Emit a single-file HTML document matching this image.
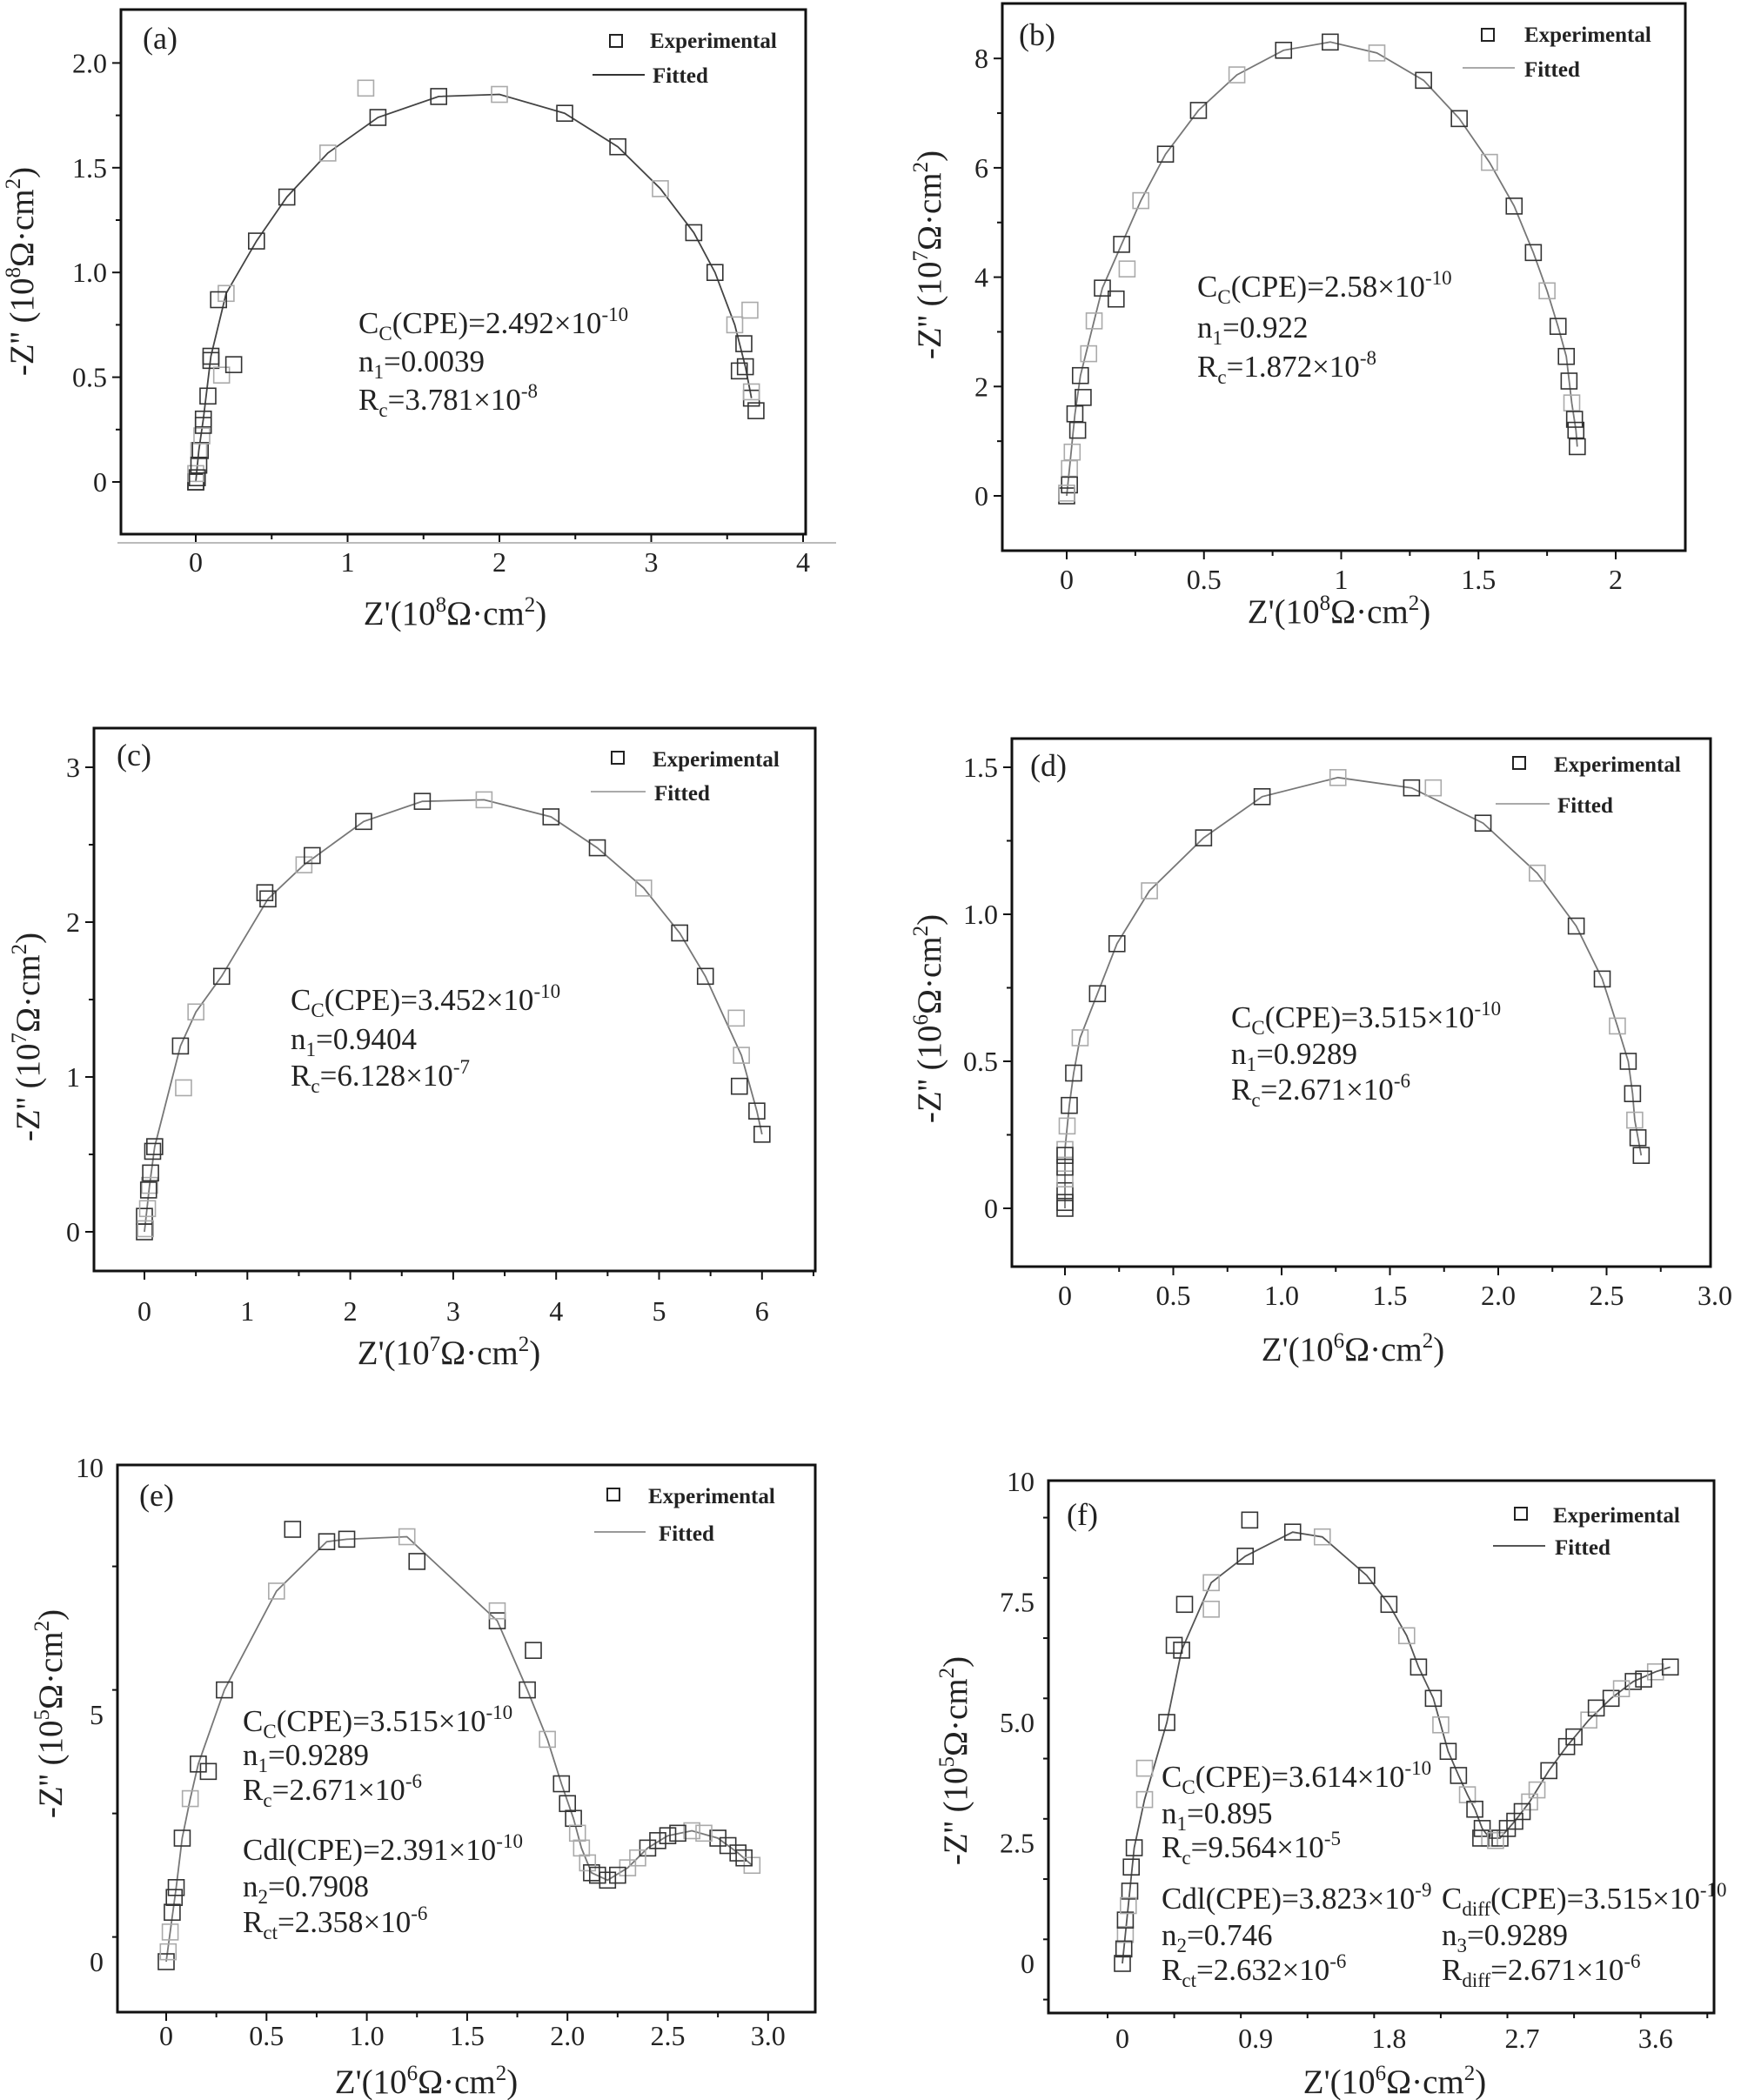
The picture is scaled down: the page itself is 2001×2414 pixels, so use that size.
<!DOCTYPE html>
<html><head><meta charset="utf-8">
<style>
html,body{margin:0;padding:0;background:#fff;}
svg{display:block;font-family:"Liberation Serif",serif;}
.t{font-size:32px;fill:#222;}
.ann{font-size:35px;fill:#222;}
.leg{font-size:25px;font-weight:bold;fill:#222;}
.ti{font-size:39px;fill:#222;}
.pl{font-size:36px;fill:#222;}
</style></head><body>
<svg id="s" width="2001" height="2414" viewBox="0 0 2001 2414" xmlns="http://www.w3.org/2000/svg">
<rect width="2001" height="2414" fill="#fff"/>
<g id="plots"></g>
<line x1="135" y1="624" x2="961" y2="624" stroke="#bbb" stroke-width="2"/>

<text class="pl" x="164" y="56">(a)</text>
<text class="pl" x="1171" y="52">(b)</text>
<text class="pl" x="134" y="880">(c)</text>
<text class="pl" x="1184" y="892">(d)</text>
<text class="pl" x="160" y="1731">(e)</text>
<text class="pl" x="1226" y="1753">(f)</text>

<g stroke-width="2" fill="none">
<rect x="701" y="40" width="14" height="14" stroke="#222"/><line x1="681" y1="86" x2="741" y2="86" stroke="#333"/>
<rect x="1703" y="33" width="14" height="14" stroke="#222"/><line x1="1681" y1="78" x2="1741" y2="78" stroke="#aaa"/>
<rect x="703" y="864" width="14" height="14" stroke="#222"/><line x1="679" y1="910" x2="742" y2="910" stroke="#aaa"/>
<rect x="1739" y="870" width="14" height="14" stroke="#222"/><line x1="1719" y1="924" x2="1781" y2="924" stroke="#aaa"/>
<rect x="698" y="1711" width="14" height="14" stroke="#222"/><line x1="683" y1="1761" x2="742" y2="1761" stroke="#999"/>
<rect x="1741" y="1733" width="14" height="14" stroke="#222"/><line x1="1716" y1="1777" x2="1776" y2="1777" stroke="#555"/>
</g>
<text class="leg" x="747" y="55">Experimental</text><text class="leg" x="750" y="95">Fitted</text>
<text class="leg" x="1752" y="48">Experimental</text><text class="leg" x="1752" y="88">Fitted</text>
<text class="leg" x="750" y="881">Experimental</text><text class="leg" x="752" y="920">Fitted</text>
<text class="leg" x="1786" y="887">Experimental</text><text class="leg" x="1790" y="934">Fitted</text>
<text class="leg" x="745" y="1728">Experimental</text><text class="leg" x="757" y="1771">Fitted</text>
<text class="leg" x="1785" y="1750">Experimental</text><text class="leg" x="1787" y="1787">Fitted</text>

<text class="ann" x="412" y="383">C<tspan font-size="23" dy="8">C</tspan><tspan dy="-8">(CPE)=2.492×10</tspan><tspan font-size="23" dy="-14">-10</tspan></text>
<text class="ann" x="412" y="427">n<tspan font-size="23" dy="8">1</tspan><tspan dy="-8">=0.0039</tspan></text>
<text class="ann" x="412" y="471">R<tspan font-size="23" dy="8">c</tspan><tspan dy="-8">=3.781×10</tspan><tspan font-size="23" dy="-14">-8</tspan></text>

<text class="ann" x="1376" y="341">C<tspan font-size="23" dy="8">C</tspan><tspan dy="-8">(CPE)=2.58×10</tspan><tspan font-size="23" dy="-14">-10</tspan></text>
<text class="ann" x="1376" y="388">n<tspan font-size="23" dy="8">1</tspan><tspan dy="-8">=0.922</tspan></text>
<text class="ann" x="1376" y="433">R<tspan font-size="23" dy="8">c</tspan><tspan dy="-8">=1.872×10</tspan><tspan font-size="23" dy="-14">-8</tspan></text>

<text class="ann" x="334" y="1161">C<tspan font-size="23" dy="8">C</tspan><tspan dy="-8">(CPE)=3.452×10</tspan><tspan font-size="23" dy="-14">-10</tspan></text>
<text class="ann" x="334" y="1206">n<tspan font-size="23" dy="8">1</tspan><tspan dy="-8">=0.9404</tspan></text>
<text class="ann" x="334" y="1248">R<tspan font-size="23" dy="8">c</tspan><tspan dy="-8">=6.128×10</tspan><tspan font-size="23" dy="-14">-7</tspan></text>

<text class="ann" x="1415" y="1181">C<tspan font-size="23" dy="8">C</tspan><tspan dy="-8">(CPE)=3.515×10</tspan><tspan font-size="23" dy="-14">-10</tspan></text>
<text class="ann" x="1415" y="1223">n<tspan font-size="23" dy="8">1</tspan><tspan dy="-8">=0.9289</tspan></text>
<text class="ann" x="1415" y="1264">R<tspan font-size="23" dy="8">c</tspan><tspan dy="-8">=2.671×10</tspan><tspan font-size="23" dy="-14">-6</tspan></text>

<text class="ann" x="279" y="1990">C<tspan font-size="23" dy="8">C</tspan><tspan dy="-8">(CPE)=3.515×10</tspan><tspan font-size="23" dy="-14">-10</tspan></text>
<text class="ann" x="279" y="2029">n<tspan font-size="23" dy="8">1</tspan><tspan dy="-8">=0.9289</tspan></text>
<text class="ann" x="279" y="2069">R<tspan font-size="23" dy="8">c</tspan><tspan dy="-8">=2.671×10</tspan><tspan font-size="23" dy="-14">-6</tspan></text>
<text class="ann" x="279" y="2138">Cdl(CPE)=2.391×10<tspan font-size="23" dy="-14">-10</tspan></text>
<text class="ann" x="279" y="2180">n<tspan font-size="23" dy="8">2</tspan><tspan dy="-8">=0.7908</tspan></text>
<text class="ann" x="279" y="2221">R<tspan font-size="23" dy="8">ct</tspan><tspan dy="-8">=2.358×10</tspan><tspan font-size="23" dy="-14">-6</tspan></text>

<text class="ann" x="1335" y="2054">C<tspan font-size="23" dy="8">C</tspan><tspan dy="-8">(CPE)=3.614×10</tspan><tspan font-size="23" dy="-14">-10</tspan></text>
<text class="ann" x="1335" y="2096">n<tspan font-size="23" dy="8">1</tspan><tspan dy="-8">=0.895</tspan></text>
<text class="ann" x="1335" y="2135">R<tspan font-size="23" dy="8">c</tspan><tspan dy="-8">=9.564×10</tspan><tspan font-size="23" dy="-14">-5</tspan></text>
<text class="ann" x="1335" y="2194">Cdl(CPE)=3.823×10<tspan font-size="23" dy="-14">-9</tspan></text>
<text class="ann" x="1335" y="2236">n<tspan font-size="23" dy="8">2</tspan><tspan dy="-8">=0.746</tspan></text>
<text class="ann" x="1335" y="2276">R<tspan font-size="23" dy="8">ct</tspan><tspan dy="-8">=2.632×10</tspan><tspan font-size="23" dy="-14">-6</tspan></text>
<text class="ann" x="1657" y="2194">C<tspan font-size="23" dy="8">diff</tspan><tspan dy="-8">(CPE)=3.515×10</tspan><tspan font-size="23" dy="-14">-10</tspan></text>
<text class="ann" x="1657" y="2236">n<tspan font-size="23" dy="8">3</tspan><tspan dy="-8">=0.9289</tspan></text>
<text class="ann" x="1657" y="2276">R<tspan font-size="23" dy="8">diff</tspan><tspan dy="-8">=2.671×10</tspan><tspan font-size="23" dy="-14">-6</tspan></text>

<text class="ti" x="523" y="718" text-anchor="middle">Z'(10<tspan font-size="25" dy="-15">8</tspan><tspan dy="15">Ω·cm</tspan><tspan font-size="25" dy="-15">2</tspan><tspan dy="15">)</tspan></text>
<text class="ti" x="1539" y="716" text-anchor="middle">Z'(10<tspan font-size="25" dy="-15">8</tspan><tspan dy="15">Ω·cm</tspan><tspan font-size="25" dy="-15">2</tspan><tspan dy="15">)</tspan></text>
<text class="ti" x="516" y="1568" text-anchor="middle">Z'(10<tspan font-size="25" dy="-15">7</tspan><tspan dy="15">Ω·cm</tspan><tspan font-size="25" dy="-15">2</tspan><tspan dy="15">)</tspan></text>
<text class="ti" x="1555" y="1564" text-anchor="middle">Z'(10<tspan font-size="25" dy="-15">6</tspan><tspan dy="15">Ω·cm</tspan><tspan font-size="25" dy="-15">2</tspan><tspan dy="15">)</tspan></text>
<text class="ti" x="490" y="2406" text-anchor="middle">Z'(10<tspan font-size="25" dy="-15">6</tspan><tspan dy="15">Ω·cm</tspan><tspan font-size="25" dy="-15">2</tspan><tspan dy="15">)</tspan></text>
<text class="ti" x="1603" y="2406" text-anchor="middle">Z'(10<tspan font-size="25" dy="-15">6</tspan><tspan dy="15">Ω·cm</tspan><tspan font-size="25" dy="-15">2</tspan><tspan dy="15">)</tspan></text>

<text class="ti" transform="translate(38,312) rotate(-90)" text-anchor="middle">-Z'' (10<tspan font-size="25" dy="-15">8</tspan><tspan dy="15">Ω·cm</tspan><tspan font-size="25" dy="-15">2</tspan><tspan dy="15">)</tspan></text>
<text class="ti" transform="translate(1081,293) rotate(-90)" text-anchor="middle">-Z'' (10<tspan font-size="25" dy="-15">7</tspan><tspan dy="15">Ω·cm</tspan><tspan font-size="25" dy="-15">2</tspan><tspan dy="15">)</tspan></text>
<text class="ti" transform="translate(45,1192) rotate(-90)" text-anchor="middle">-Z'' (10<tspan font-size="25" dy="-15">7</tspan><tspan dy="15">Ω·cm</tspan><tspan font-size="25" dy="-15">2</tspan><tspan dy="15">)</tspan></text>
<text class="ti" transform="translate(1081,1171) rotate(-90)" text-anchor="middle">-Z'' (10<tspan font-size="25" dy="-15">6</tspan><tspan dy="15">Ω·cm</tspan><tspan font-size="25" dy="-15">2</tspan><tspan dy="15">)</tspan></text>
<text class="ti" transform="translate(71,1970) rotate(-90)" text-anchor="middle">-Z'' (10<tspan font-size="25" dy="-15">5</tspan><tspan dy="15">Ω·cm</tspan><tspan font-size="25" dy="-15">2</tspan><tspan dy="15">)</tspan></text>
<text class="ti" transform="translate(1111,2024) rotate(-90)" text-anchor="middle">-Z'' (10<tspan font-size="25" dy="-15">5</tspan><tspan dy="15">Ω·cm</tspan><tspan font-size="25" dy="-15">2</tspan><tspan dy="15">)</tspan></text>
</svg>
<script>
var NS="http://www.w3.org/2000/svg",G=document.getElementById("plots");
function el(n,a,t){var e=document.createElementNS(NS,n);for(var k in a)e.setAttribute(k,a[k]);if(t!=null)e.textContent=t;G.appendChild(e);return e;}
var P=[
{f:[139,11,926,614],x0:225,ux:174.5,y0:554,uy:240.8,xt:[0,1,2,3,4],xl:["0","1","2","3","4"],xm:0.5,yt:[0,0.5,1,1.5,2],yl:["0","0.5","1.0","1.5","2.0"],ym:0.25,xb:657,lc:"#444",
c:[[0,0],[0.02,0.15],[0.05,0.3],[0.1,0.6],[0.2,0.9],[0.4,1.15],[0.6,1.36],[0.87,1.57],[1.2,1.74],[1.6,1.84],[2.0,1.85],[2.43,1.76],[2.78,1.6],[3.06,1.4],[3.28,1.19],[3.42,1.0],[3.55,0.75],[3.62,0.55],[3.66,0.4]],
e:[[1.12,1.88],[0.15,0.87],[0.1,0.58],[0.17,0.51],[0.25,0.56],[0.08,0.41],[3.65,0.82],[3.61,0.66],[3.58,0.53],[3.66,0.43],[3.69,0.34],[0,0],[0,0.04],[0.02,0.08],[0.03,0.15],[0.04,0.22],[0.05,0.27],[0.01,0.02]]},
{f:[1152,4,1937,633],x0:1226,ux:315.5,y0:570,uy:62.85,xt:[0,0.5,1,1.5,2],xl:["0","0.5","1","1.5","2"],xm:0.25,yt:[0,2,4,6,8],yl:["0","2","4","6","8"],ym:1,xb:677,lc:"#777",
c:[[0,0],[0.01,0.5],[0.03,1.5],[0.05,2.2],[0.1,3.2],[0.13,3.8],[0.2,4.6],[0.27,5.4],[0.36,6.25],[0.48,7.05],[0.62,7.7],[0.79,8.15],[0.96,8.3],[1.13,8.1],[1.3,7.6],[1.43,6.9],[1.54,6.1],[1.63,5.3],[1.7,4.45],[1.75,3.75],[1.79,3.1],[1.82,2.55],[1.84,1.7],[1.855,1.2],[1.86,0.9]],
e:[[0.22,4.15],[0.18,3.6],[0.01,0.2],[0.02,0.8],[0.04,1.2],[0.06,1.8],[0.08,2.6],[1.83,2.1],[1.85,1.4],[0,0.05]]},
{f:[108,837,937,1461],x0:166,ux:118.3,y0:1416,uy:178,xt:[0,1,2,3,4,5,6],xl:["0","1","2","3","4","5","6"],xm:0.5,yt:[0,1,2,3],yl:["0","1","2","3"],ym:0.5,xb:1518,lc:"#777",
c:[[0,0],[0.05,0.3],[0.1,0.55],[0.35,1.2],[0.5,1.42],[0.75,1.65],[1.2,2.15],[1.55,2.37],[2.13,2.65],[2.7,2.78],[3.3,2.79],[3.95,2.68],[4.4,2.48],[4.85,2.22],[5.2,1.93],[5.45,1.65],[5.8,1.14],[5.95,0.78],[6.0,0.63]],
e:[[0.38,0.93],[1.17,2.19],[1.63,2.43],[5.75,1.38],[5.78,0.94],[0,0.1],[0.03,0.15],[0.04,0.27],[0.06,0.38],[0.01,0.02],[0.08,0.52]]},
{f:[1163,849,1966,1456],x0:1224,ux:249,y0:1389,uy:338,xt:[0,0.5,1,1.5,2,2.5,3],xl:["0","0.5","1.0","1.5","2.0","2.5","3.0"],xm:0.25,yt:[0,0.5,1,1.5],yl:["0","0.5","1.0","1.5"],ym:0.25,xb:1500,lc:"#777",
c:[[0,0],[0,0.2],[0.02,0.35],[0.04,0.46],[0.07,0.58],[0.15,0.73],[0.24,0.9],[0.39,1.08],[0.64,1.26],[0.91,1.4],[1.26,1.465],[1.6,1.43],[1.93,1.31],[2.18,1.14],[2.36,0.96],[2.48,0.78],[2.55,0.62],[2.6,0.5],[2.62,0.39],[2.63,0.3],[2.645,0.24],[2.66,0.18]],
e:[[1.7,1.43],[0,0.02],[0,0.06],[0,0.1],[0,0.14],[0,0.18],[0.01,0.28]]},
{f:[135,1684,937,2313],x0:191,ux:230.6,y0:2255,uy:56.8,xt:[0,0.5,1,1.5,2,2.5,3],xl:["0","0.5","1.0","1.5","2.0","2.5","3.0"],xm:0.25,yt:[0,5,10],yl:["0","5","10"],ym:2.5,xb:2351,lc:"#777",
c:[[0,0],[0.02,0.6],[0.05,1.5],[0.08,2.5],[0.12,3.3],[0.16,4.0],[0.29,5.5],[0.55,7.5],[0.8,8.5],[0.9,8.55],[1.2,8.6],[1.65,6.9],[1.8,5.5],[1.9,4.5],[1.97,3.6],[2.03,2.9],[2.07,2.3],[2.12,1.8],[2.2,1.65],[2.3,1.9],[2.4,2.3],[2.5,2.55],[2.62,2.65],[2.75,2.5],[2.85,2.2],[2.92,1.95]],
e:[[0.63,8.75],[1.25,8.1],[1.65,7.1],[1.83,6.3],[0.21,3.85],[0.01,0.2],[0.03,1.0],[0.04,1.3],[2.1,2.0],[2.15,1.75],[2.25,1.75],[2.35,2.1],[2.45,2.45],[2.55,2.6],[2.68,2.6],[2.8,2.35],[2.88,2.1],[2.05,2.6],[2.0,3.2]]},
{f:[1205,1702,1970,2314],x0:1290,ux:170.2,y0:2257,uy:55.4,xt:[0,0.9,1.8,2.7,3.6],xl:["0","0.9","1.8","2.7","3.6"],xm:0.45,yt:[0,2.5,5,7.5,10],yl:["0","2.5","5.0","7.5","10"],ym:1.25,xb:2354,lc:"#555",
c:[[0,0],[0.02,0.6],[0.05,1.5],[0.08,2.4],[0.15,3.4],[0.3,5.0],[0.4,6.5],[0.6,7.9],[0.83,8.45],[1.15,8.95],[1.35,8.85],[1.65,8.05],[1.8,7.45],[1.92,6.8],[2.0,6.15],[2.1,5.5],[2.15,4.95],[2.2,4.4],[2.27,3.9],[2.33,3.5],[2.38,3.2],[2.43,2.8],[2.48,2.6],[2.55,2.6],[2.65,2.95],[2.75,3.35],[2.88,4.0],[3.0,4.5],[3.15,5.05],[3.3,5.5],[3.45,5.85],[3.6,6.05],[3.7,6.15]],
e:[[0.42,7.45],[0.6,7.35],[0.86,9.2],[0.35,6.6],[0.15,4.05],[0.01,0.3],[0.02,0.9],[0.04,1.2],[0.06,2.0],[2.42,2.6],[2.52,2.55],[2.6,2.8],[2.7,3.15],[2.8,3.6],[3.05,4.7],[3.2,5.3],[3.37,5.7],[3.52,5.9]]}
];
P.forEach(function(p){
 var f=p.f;
 el("rect",{x:f[0],y:f[1],width:f[2]-f[0],height:f[3]-f[1],fill:"none",stroke:"#111","stroke-width":3});
 function X(v){return p.x0+v*p.ux;} function Y(v){return p.y0-v*p.uy;}
 for(var v=-1;v<=10;v+=p.xm){var xx=X(v);if(xx<f[0]+2||xx>f[2]-2)continue;
  var maj=p.xt.some(function(t){return Math.abs(t-v)<1e-6;});
  el("line",{x1:xx,y1:f[3],x2:xx,y2:f[3]+(maj?10:6),stroke:"#111","stroke-width":2});}
 p.xt.forEach(function(t,i){el("text",{x:X(t),y:p.xb,"text-anchor":"middle","class":"t"},p.xl[i]);});
 for(var v=-2;v<=12;v+=p.ym){var yy=Y(v);if(yy<f[1]+2||yy>f[3]-2)continue;
  var maj=p.yt.some(function(t){return Math.abs(t-v)<1e-6;});
  el("line",{x1:f[0],y1:yy,x2:f[0]-(maj?10:6),y2:yy,stroke:"#111","stroke-width":2});}
 p.yt.forEach(function(t,i){el("text",{x:f[0]-16,y:Y(t)+11,"text-anchor":"end","class":"t"},p.yl[i]);});
 var d=p.c.map(function(q,i){return (i?"L":"M")+X(q[0]).toFixed(1)+" "+Y(q[1]).toFixed(1);}).join("");
 el("path",{d:d,fill:"none",stroke:p.lc,"stroke-width":1.8});
 p.c.concat(p.e).forEach(function(q,i){
  el("rect",{x:X(q[0])-9,y:Y(q[1])-9,width:18,height:18,fill:"none",stroke:(i%3==1?"#aaa":"#333"),"stroke-width":1.6});});
});
</script>
</body></html>
